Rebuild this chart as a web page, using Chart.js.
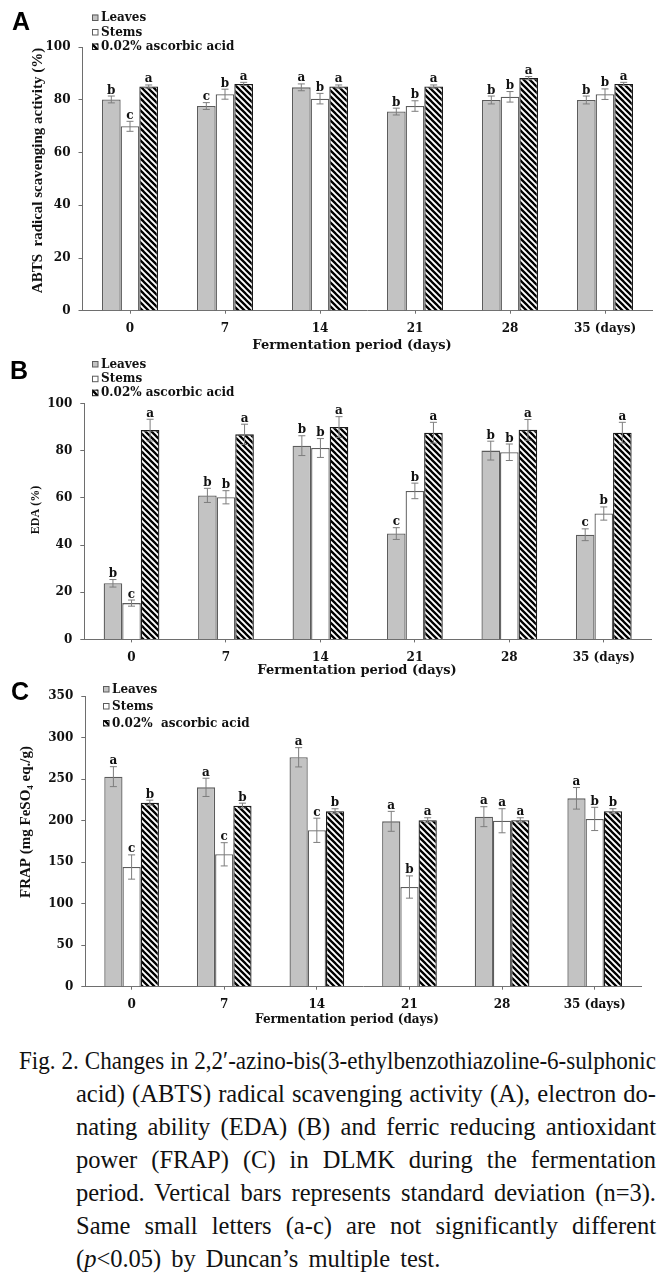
<!DOCTYPE html>
<html>
<head>
<meta charset="utf-8">
<script src="https://cdn.jsdelivr.net/npm/chart.js@4.4.0/dist/chart.umd.min.js"></script>
<style>
  html, body { margin: 0; padding: 0; background: #fff; }
  body { width: 668px; height: 1276px; position: relative; overflow: hidden; }
  canvas { position: absolute; left: 0; }
  .l {
    position: absolute; transform-origin: 0 0;
    font-family: "Liberation Serif", "Times New Roman", serif;
    font-size: 25px; line-height: 33px; height: 33px; color: #111;
    text-align: justify; text-align-last: justify;
  }
  .l.last { text-align-last: left; word-spacing: 4px; }
</style>
</head>
<body>
<canvas id="cA" width="668" height="360" style="top:0px"></canvas>
<canvas id="cB" width="668" height="340" style="top:340px"></canvas>
<canvas id="cC" width="668" height="354" style="top:676px"></canvas>

<div id="cap">
  <div class="l" data-x="19" data-w="637">Fig. 2. Changes in 2,2′-azino-bis(3-ethylbenzothiazoline-6-sulphonic</div>
  <div class="l" data-x="76" data-w="580">acid) (ABTS) radical scavenging activity (A), electron do-</div>
  <div class="l" data-x="76" data-w="580">nating ability (EDA) (B) and ferric reducing antioxidant</div>
  <div class="l" data-x="76" data-w="580">power (FRAP) (C) in DLMK during the fermentation</div>
  <div class="l" data-x="76" data-w="580">period. Vertical bars represents standard deviation (n=3).</div>
  <div class="l" data-x="76" data-w="580">Same small letters (a-c) are not significantly different</div>
  <div class="l last" data-x="76" data-w="366">(<i>p</i>&lt;0.05) by Duncan’s multiple test.</div>
</div>

<script>
// ---------------- data ----------------
const days = ['0', '7', '14', '21', '28', '35 (days)'];
const seriesLabels  = ['Leaves', 'Stems', '0.02% ascorbic acid'];
const seriesLabelsC = ['Leaves', 'Stems', '0.02%  ascorbic acid'];

// Panel A: ABTS radical scavenging activity (%)
const abtsLeaves   = [80.2, 77.7, 84.8, 75.6, 80.0, 80.0];
const abtsStems    = [70.0, 82.2, 80.5, 77.7, 81.2, 82.2];
const abtsAscorbic = [85.1, 86.1, 85.1, 85.1, 88.3, 86.1];
const abtsLeavesSD   = [1.3, 1.3, 1.3, 1.3, 1.5, 1.5];
const abtsStemsSD    = [1.9, 1.9, 2.0, 2.0, 2.0, 2.0];
const abtsAscorbicSD = [0.6, 0.6, 0.6, 0.6, 0.6, 0.6];
const abtsLeavesSig   = ['b', 'c', 'a', 'b', 'b', 'b'];
const abtsStemsSig    = ['c', 'b', 'b', 'b', 'b', 'b'];
const abtsAscorbicSig = ['a', 'a', 'a', 'a', 'a', 'a'];
const abtsTicks = [0, 20, 40, 60, 80, 100];

// Panel B: EDA (%)
const edaLeaves   = [23.8, 61.1, 82.2, 44.9, 80.1, 44.4];
const edaStems    = [15.4, 60.3, 81.2, 63.0, 79.4, 53.4];
const edaAscorbic = [88.8, 87.0, 90.1, 87.7, 88.9, 87.7];
const edaLeavesSD   = [1.6, 3.0, 4.2, 2.5, 4.0, 2.5];
const edaStemsSD    = [1.3, 2.8, 4.0, 3.3, 3.5, 2.8];
const edaAscorbicSD = [4.6, 4.3, 4.4, 4.4, 4.4, 4.4];
const edaLeavesSig   = ['b', 'b', 'b', 'c', 'b', 'c'];
const edaStemsSig    = ['c', 'b', 'b', 'b', 'b', 'b'];
const edaAscorbicSig = ['a', 'a', 'a', 'a', 'a', 'a'];
const edaTicks = [0, 20, 40, 60, 80, 100];

// Panel C: FRAP (mg FeSO4 eq./g)
const frapLeaves   = [252.9, 240.0, 276.2, 199.1, 204.7, 226.8];
const frapStems    = [144.1, 159.4, 188.3, 120.0, 199.8, 202.0];
const frapAscorbic = [221.6, 218.0, 211.2, 200.4, 200.4, 211.3];
const frapLeavesSD   = [12.0, 11.0, 11.6, 12.0, 12.0, 13.0];
const frapStemsSD    = [14.6, 14.0, 14.6, 13.4, 14.5, 14.0];
const frapAscorbicSD = [3.0, 3.0, 3.0, 3.0, 3.0, 3.0];
const frapLeavesSig   = ['a', 'a', 'a', 'a', 'a', 'a'];
const frapStemsSig    = ['c', 'c', 'c', 'b', 'a', 'b'];
const frapAscorbicSig = ['b', 'b', 'b', 'a', 'a', 'b'];
const frapTicks = [0, 50, 100, 150, 200, 250, 300, 350];

// ---------------- caption layout (fit each line to its measure) ----------------
(function layoutCaption() {
  const lines = document.querySelectorAll('#cap .l');
  lines.forEach((el, i) => {
    const x = +el.dataset.x, w = +el.dataset.w;
    el.style.left = x + 'px';
    el.style.top = (1043.5 + i * 33) + 'px';
    el.style.whiteSpace = 'nowrap';
    el.style.width = 'auto';
    el.style.display = 'inline-block';
    const natural = el.getBoundingClientRect().width;
    const last = el.classList.contains('last');
    if (last) {
      el.style.transform = 'scaleX(0.98)';
      return;
    }
    const s = Math.min(0.98, (w - 1) / natural);
    el.style.display = 'block';
    el.style.whiteSpace = 'normal';
    el.style.width = (w / s) + 'px';
    el.style.transform = 'scaleX(' + s + ')';
  });
})();

// ---------------- styling helpers ----------------
const SERIF_W = '"DejaVu Serif", serif';
const SERIF_T = '"Liberation Serif", "Times New Roman", serif';
const AXIS_COL = '#6e6e6e';

function hatch() {
  const c = document.createElement('canvas');
  c.width = 6; c.height = 6;
  const g = c.getContext('2d');
  g.fillStyle = '#fff'; g.fillRect(0, 0, 6, 6);
  g.strokeStyle = '#000'; g.lineWidth = 2.3; g.lineCap = 'square';
  g.beginPath();
  for (const o of [-6, 0, 6]) { g.moveTo(o, 0); g.lineTo(o + 6, 6); }
  g.stroke();
  return g.createPattern(c, 'repeat');
}
const HATCH = hatch();

const deco = {
  id: 'deco',
  afterDatasetsDraw(chart, args, o) {
    const ctx = chart.ctx, ys = chart.scales.y;
    ctx.save();
    chart.data.datasets.forEach((ds, i) => {
      const meta = chart.getDatasetMeta(i);
      meta.data.forEach((bar, j) => {
        const v = ds.data[j], sd = ds.sd[j];
        const yt = ys.getPixelForValue(v + sd), yb = ys.getPixelForValue(v - sd);
        ctx.strokeStyle = '#7d7d7d'; ctx.lineWidth = 1;
        ctx.beginPath();
        ctx.moveTo(bar.x, yt); ctx.lineTo(bar.x, yb);
        ctx.moveTo(bar.x - 3.5, yt); ctx.lineTo(bar.x + 3.5, yt);
        ctx.moveTo(bar.x - 3.5, yb); ctx.lineTo(bar.x + 3.5, yb);
        ctx.stroke();
        ctx.fillStyle = '#111';
        ctx.font = 'bold 12px ' + SERIF_W;
        ctx.textAlign = 'center'; ctx.textBaseline = 'alphabetic';
        ctx.fillText(ds.sig[j], bar.x, yt - 2.5);
      });
    });
    ctx.restore();
  },
  afterDraw(chart, args, o) {
    const ctx = chart.ctx;
    ctx.save();
    // panel letter
    ctx.fillStyle = '#000';
    ctx.font = 'bold 25px "Liberation Sans", Arial, sans-serif';
    ctx.textAlign = 'left'; ctx.textBaseline = 'alphabetic';
    ctx.fillText(o.letter, o.letterX, o.letterY);
    // legend (vertical list)
    chart.data.datasets.forEach((ds, i) => {
      const y = o.legendY[i];
      ctx.fillStyle = ds.backgroundColor;
      ctx.fillRect(o.legendX, y - 3, 6, 6);
      ctx.strokeStyle = ds.borderColor; ctx.lineWidth = 1;
      ctx.strokeRect(o.legendX + 0.5, y - 2.5, 5.5, 5.5);
      ctx.fillStyle = '#111';
      ctx.font = 'bold 12px ' + SERIF_W;
      ctx.textAlign = 'left'; ctx.textBaseline = 'middle';
      ctx.fillText(ds.label, o.legendX + 9, y + 0.5);
    });
    // x-axis title
    ctx.font = 'bold ' + o.xTitle.size + 'px ' + SERIF_W;
    ctx.textAlign = 'center'; ctx.textBaseline = 'middle';
    ctx.fillText(o.xTitle.text, o.xTitle.x, o.xTitle.y);
    // y-axis title (rotated)
    ctx.translate(o.yTitle.x, o.yTitle.y);
    ctx.rotate(-Math.PI / 2);
    ctx.font = 'bold ' + o.yTitle.size + 'px ' + SERIF_T;
    ctx.fillText(o.yTitle.text, 0, 0);
    ctx.restore();
  }
};

function makeChart(id, labels, vals, sds, sigs, tickVals, max, geo, decoOpts) {
  const styles = [
    { bg: '#c3c3c3', bd: '#5c5c5c' },
    { bg: '#ffffff', bd: '#5c5c5c' },
    { bg: HATCH,     bd: '#1a1a1a' }
  ];
  const datasets = vals.map((d, i) => ({
    label: labels[i], data: d, sd: sds[i], sig: sigs[i],
    backgroundColor: styles[i].bg, borderColor: styles[i].bd,
    borderWidth: 1.3, categoryPercentage: 0.59, barPercentage: 1.0
  }));
  const tickFont = { family: SERIF_W, size: 12, weight: 'bold' };
  return new Chart(document.getElementById(id), {
    type: 'bar',
    data: { labels: days, datasets },
    plugins: [deco],
    options: {
      responsive: false, animation: false, devicePixelRatio: 1,
      layout: { padding: { left: 0, right: geo.right, top: geo.top, bottom: geo.bottom } },
      plugins: {
        legend: { display: false }, tooltip: { enabled: false }, title: { display: false },
        deco: decoOpts
      },
      scales: {
        x: {
          offset: true,
          grid: { offset: false, drawOnChartArea: false, drawTicks: true, tickLength: 3, color: AXIS_COL },
          border: { display: true, color: AXIS_COL, width: 1 },
          ticks: { font: tickFont, color: '#111', padding: 8, maxRotation: 0, autoSkip: false },
          afterFit: s => { s.height = 30; }
        },
        y: {
          min: 0, max: max,
          grid: { drawOnChartArea: false, drawTicks: true, tickLength: 4, color: AXIS_COL },
          border: { display: true, color: AXIS_COL, width: 1 },
          ticks: { font: tickFont, color: '#111', padding: 8 },
          afterBuildTicks: s => { s.ticks = tickVals.map(v => ({ value: v })); },
          afterFit: s => { s.width = geo.left; }
        }
      }
    }
  });
}

// Panel A
makeChart('cA', seriesLabels,
  [abtsLeaves, abtsStems, abtsAscorbic],
  [abtsLeavesSD, abtsStemsSD, abtsAscorbicSD],
  [abtsLeavesSig, abtsStemsSig, abtsAscorbicSig],
  abtsTicks, 100,
  { left: 82.5, right: 15.5, top: 47.3, bottom: 19.3 },
  { letter: 'A', letterX: 12, letterY: 30,
    legendX: 92, legendY: [17.5, 32, 46.5],
    xTitle: { text: 'Fermentation period (days)', x: 352, y: 346, size: 13 },
    yTitle: { text: 'ABTS  radical scavenging activity (%)', x: 38, y: 170.5, size: 15 } });

// Panel B
makeChart('cB', seriesLabels,
  [edaLeaves, edaStems, edaAscorbic],
  [edaLeavesSD, edaStemsSD, edaAscorbicSD],
  [edaLeavesSig, edaStemsSig, edaAscorbicSig],
  edaTicks, 100,
  { left: 84.3, right: 17, top: 63.7, bottom: 10.6 },
  { letter: 'B', letterX: 10, letterY: 39.3,
    legendX: 92, legendY: [24, 38.7, 52.7],
    xTitle: { text: 'Fermentation period (days)', x: 357, y: 331, size: 13 },
    yTitle: { text: 'EDA (%)', x: 36, y: 170, size: 12 } });

// Panel C
makeChart('cC', seriesLabelsC,
  [frapLeaves, frapStems, frapAscorbic],
  [frapLeavesSD, frapStemsSD, frapAscorbicSD],
  [frapLeavesSig, frapStemsSig, frapAscorbicSig],
  frapTicks, 350,
  { left: 85.3, right: 27, top: 20, bottom: 13.3 },
  { letter: 'C', letterX: 11, letterY: 23.5,
    legendX: 103, legendY: [13, 30, 47],
    xTitle: { text: 'Fermentation period (days)', x: 347, y: 344, size: 12 },
    yTitle: { text: 'FRAP (mg FeSO\u2084 eq./g)', x: 26, y: 146, size: 15 } });
</script>
</body>
</html>
